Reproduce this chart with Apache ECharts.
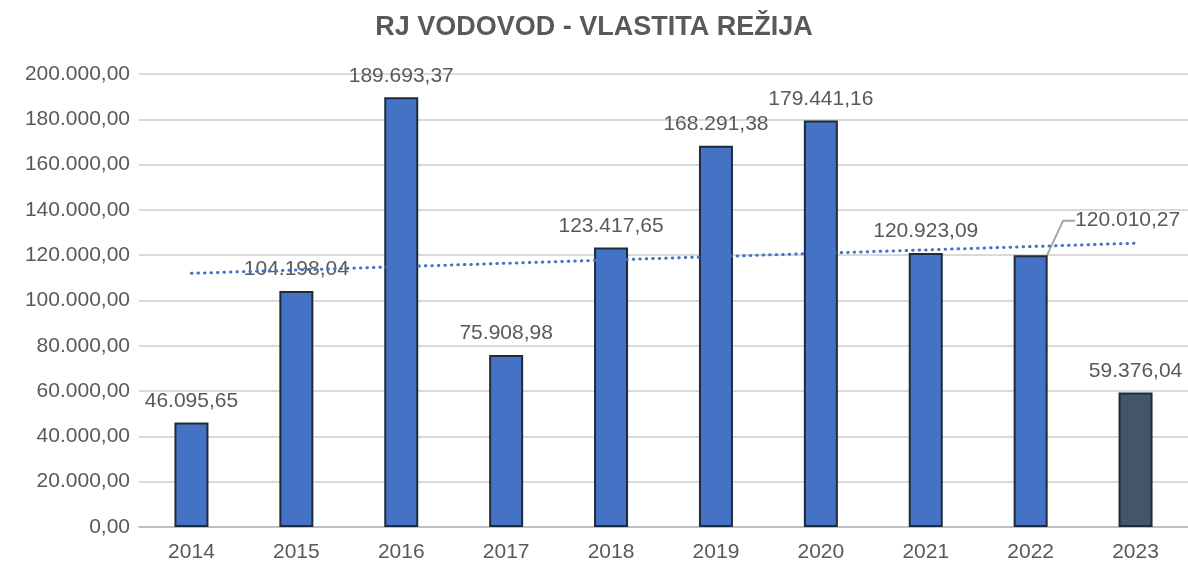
<!DOCTYPE html>
<html>
<head>
<meta charset="utf-8">
<title>RJ VODOVOD - VLASTITA REŽIJA</title>
<script src="https://cdn.jsdelivr.net/npm/echarts@6/dist/echarts.min.js"></script>
<style>
  html, body { margin: 0; padding: 0; background: #fff; }
  #main { width: 1188px; height: 567px; }
</style>
</head>
<body>
<div id="main"></div>
<script>
var years = ['2014', '2015', '2016', '2017', '2018', '2019', '2020', '2021', '2022', '2023'];
var values = [46095.65, 104198.04, 189693.37, 75908.98, 123417.65, 168291.38, 179441.16, 120923.09, 120010.27, 59376.04];
// linija trenda - procitane krajnje tocke
var trend = [112000, null, null, null, null, null, null, null, null, 125300];
var yTicks = { min: 0, max: 200000, step: 20000 };

function fmt(v) {//format 1.234,56
    var parts = Number(v).toFixed(2).split('.');
    return parts[0].replace(/\B(?=(\d{3})+(?!\d))/g, '.') + ',' + parts[1];
}

var barData = values.map(function (v, i) {
    var item = { value: v };
    if (i === 8) {
        item.labelLine = { show: true };
    }
    if (i === values.length - 1) {
        item.itemStyle = { color: '#44546A' };
    }
    return item;
});

var chart = echarts.init(document.getElementById('main'));
chart.setOption({
    animation: false,
    title: {
        text: 'RJ VODOVOD - VLASTITA REŽIJA',
        left: 'center',
        top: 9,
        textStyle: { fontFamily: 'Liberation Sans', fontSize: 27, fontWeight: 'bold', color: '#595959' }
    },
    grid: { left: 139, top: 74, width: 1050, bottom: 40, containLabel: false },
    xAxis: {
        type: 'category',
        data: years,
        axisTick: { show: false },
        axisLine: { lineStyle: { color: '#BFBFBF', width: 2 } },
        axisLabel: { color: '#595959', fontFamily: 'Liberation Sans', fontSize: 21, margin: 15 }
    },
    yAxis: {
        type: 'value',
        min: yTicks.min,
        max: yTicks.max,
        interval: yTicks.step,
        axisLine: { show: false },
        axisTick: { show: false },
        splitLine: { lineStyle: { color: '#D9D9D9', width: 2 } },
        axisLabel: { color: '#595959', fontFamily: 'Liberation Sans', fontSize: 21, margin: 9, formatter: fmt }
    },
    series: [
        {
            type: 'bar',
            data: barData,
            barWidth: 34,
            itemStyle: { color: '#4472C4', borderColor: '#1F2A3A', borderWidth: 2 },
            label: {
                show: true,
                position: 'top',
                distance: 11,
                color: '#595959',
                fontFamily: 'Liberation Sans',
                fontSize: 21,
                formatter: function (p) { return fmt(p.value); }
            },
            labelLine: { show: false, length2: 12, lineStyle: { color: '#A6A6A6', width: 2 } },
            labelLayout: function (p) {
                if (p.dataIndex === 8) {
                    return { dx: 97, dy: -13 };
                }
                return {};
            },
            z: 2
        },
        {
            type: 'line',
            data: trend,
            connectNulls: true,
            symbol: 'none',
            silent: true,
            lineStyle: { color: '#4472C4', width: 3, type: [0.5, 6], cap: 'round' },
            z: 3
        }
    ]
});
</script>
</body>
</html>
